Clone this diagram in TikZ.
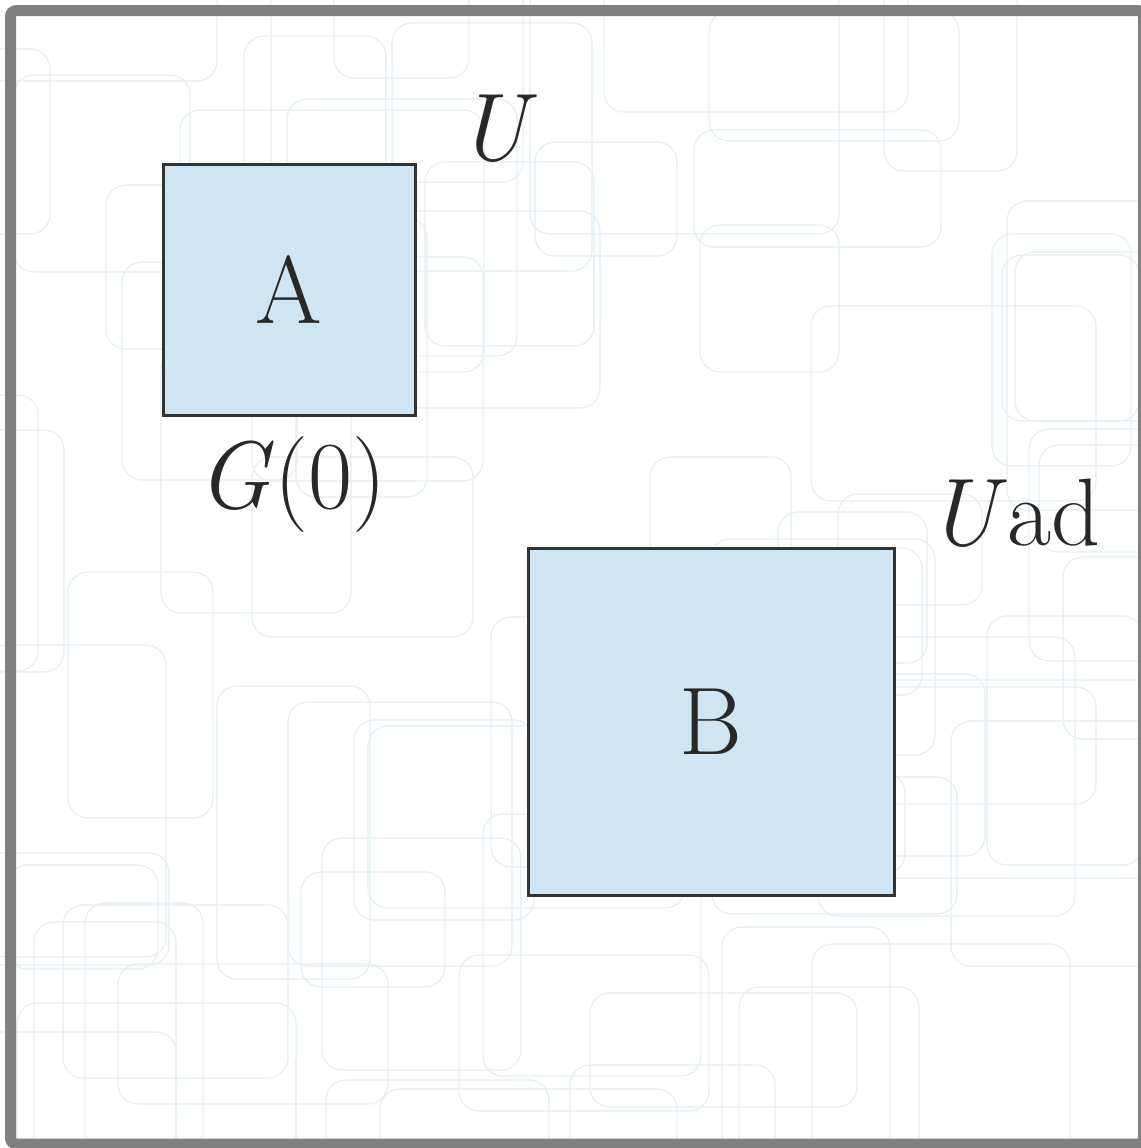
\documentclass[tikz,border=0pt]{standalone}
\definecolor{boxfill}{RGB}{208,229,243}
\definecolor{boxline}{RGB}{51,51,51}
\definecolor{framegrey}{RGB}{128,128,128}
\definecolor{bgcol}{RGB}{228,239,244}
\definecolor{inkcol}{RGB}{40,40,40}
\tikzset{
  box/.style={draw=boxline, fill=boxfill, line width=1.5pt, inner sep=0pt, text=inkcol,
    font=\fontsize{48}{58}\selectfont},
  lbl/.style={anchor=base, inner sep=0pt, text=inkcol, font=\fontsize{48}{58}\selectfont},
  bgline/.style={draw=bgcol, line width=0.6pt, rounded corners=10pt},
  frame/.style={draw=framegrey, line width=5.5pt, rounded corners=3pt}
}
\begin{document}
\begin{tikzpicture}[x=0.5pt,y=-0.5pt]
\useasboundingbox (0,0) rectangle (1141,1148);
\begin{scope}
  \clip (0,0) rectangle (1141,1148);
  \fill[white] (0,0) rectangle (1141,1148);
  \pgfmathsetseed{11}
  \foreach \i in {1,...,75}{
    \pgfmathsetmacro\xa{random(-100,1100)}
    \pgfmathsetmacro\ya{random(-100,1100)}
    \pgfmathsetmacro\wa{random(100,320)}
    \pgfmathsetmacro\ha{random(100,320)}
    \draw[bgline] (\xa,\ya) rectangle ++(\wa,\ha);
  }
  \draw[frame] (10.5,10.5) rectangle (1143.5,1144);
\end{scope}
\node[box, minimum width=126pt, minimum height=125.5pt] (A) at (289,289.5) {A};
\node[box, minimum width=183pt, minimum height=173.5pt] (B) at (711,721.5) {B};
\node[lbl] (U) at (497,160) {\textit{U}};
\node[lbl] (G0) at (292,508) {\textit{G}(0)};
\node[lbl] (Uad) at (1014,545) {\textit{U}ad};
\end{tikzpicture}
\end{document}
